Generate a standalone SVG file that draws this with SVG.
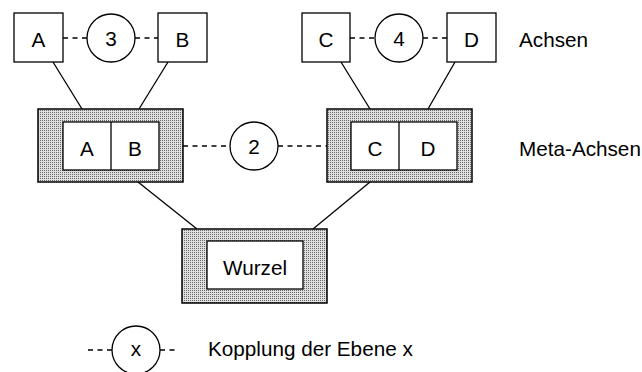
<svg xmlns="http://www.w3.org/2000/svg" width="642" height="372" viewBox="0 0 642 372">
<defs>
<pattern id="stip" width="2" height="2" patternUnits="userSpaceOnUse">
<rect width="2" height="2" fill="#e0e0e0"/>
<rect width="1" height="1" fill="#666"/>
</pattern>
<style>
.box{fill:#fff;stroke:#000;stroke-width:1.3}
.outer{fill:url(#stip);stroke:#000;stroke-width:1.5}
.circ{fill:#fff;stroke:#000;stroke-width:1.3}
.ln{stroke:#000;stroke-width:1.3;fill:none}
.dash{stroke:#000;stroke-width:1.3;fill:none;stroke-dasharray:5 4.5}
text{font-family:"Liberation Sans",Arial,Helvetica,sans-serif;font-size:20.7px;fill:#000}
.c{text-anchor:middle}
</style>
</defs>
<rect width="642" height="372" fill="#fff"/>
<g id="connectors">
<line class="ln" x1="53" y1="62" x2="82" y2="109"/>
<line class="ln" x1="168" y1="62" x2="139" y2="109"/>
<line class="ln" x1="341" y1="62" x2="370" y2="109"/>
<line class="ln" x1="455" y1="62" x2="428" y2="109"/>
<line class="ln" x1="138" y1="182" x2="197" y2="229"/>
<line class="ln" x1="370" y1="182" x2="313" y2="229"/>
<line class="dash" x1="63" y1="38" x2="87" y2="38"/>
<line class="dash" x1="135" y1="38" x2="158" y2="38"/>
<line class="dash" x1="350" y1="38" x2="375" y2="38"/>
<line class="dash" x1="423" y1="38" x2="447" y2="38"/>
<line class="dash" x1="183" y1="146" x2="230" y2="146"/>
<line class="dash" x1="278" y1="146" x2="327" y2="146"/>
</g>
<g id="nodeA"><rect class="box" x="14" y="13" width="49" height="49"/><text class="c" x="38.5" y="47">A</text></g>
<g id="node3"><circle class="circ" cx="111" cy="38" r="24"/><text class="c" x="111" y="45.5">3</text></g>
<g id="nodeB"><rect class="box" x="158" y="13" width="49" height="49"/><text class="c" x="182.5" y="47">B</text></g>
<g id="nodeC"><rect class="box" x="302" y="13" width="48" height="49"/><text class="c" x="326" y="47">C</text></g>
<g id="node4"><circle class="circ" cx="399" cy="38" r="24"/><text class="c" x="399" y="45.5">4</text></g>
<g id="nodeD"><rect class="box" x="447" y="13" width="49" height="49"/><text class="c" x="471.5" y="47">D</text></g>
<g id="metaAB">
<rect class="outer" x="38" y="109" width="145" height="73"/>
<rect class="box" x="63" y="122" width="96" height="48"/>
<line class="ln" x1="111" y1="122" x2="111" y2="170"/>
<text class="c" x="87" y="156">A</text><text class="c" x="135" y="156">B</text>
</g>
<g id="node2"><circle class="circ" cx="254" cy="146" r="24"/><text class="c" x="254" y="153.5">2</text></g>
<g id="metaCD">
<rect class="outer" x="327" y="109" width="145" height="73"/>
<rect class="box" x="351" y="122" width="106" height="48"/>
<line class="ln" x1="399" y1="122" x2="399" y2="170"/>
<text class="c" x="375" y="156">C</text><text class="c" x="428" y="156">D</text>
</g>
<g id="root">
<rect class="outer" x="182" y="229" width="145" height="74"/>
<rect class="box" x="207" y="241" width="96" height="48"/>
<text class="c" x="255" y="275">Wurzel</text>
</g>
<g id="labels">
<text x="519" y="47">Achsen</text>
<text x="519" y="156">Meta-Achsen</text>
</g>
<g id="legend">
<line class="dash" x1="88" y1="350" x2="112" y2="350"/>
<line class="dash" x1="160" y1="350" x2="178" y2="350"/>
<circle class="circ" cx="136" cy="350" r="24"/>
<text class="c" x="136" y="356">x</text>
<text x="208" y="356">Kopplung der Ebene x</text>
</g>
</svg>
